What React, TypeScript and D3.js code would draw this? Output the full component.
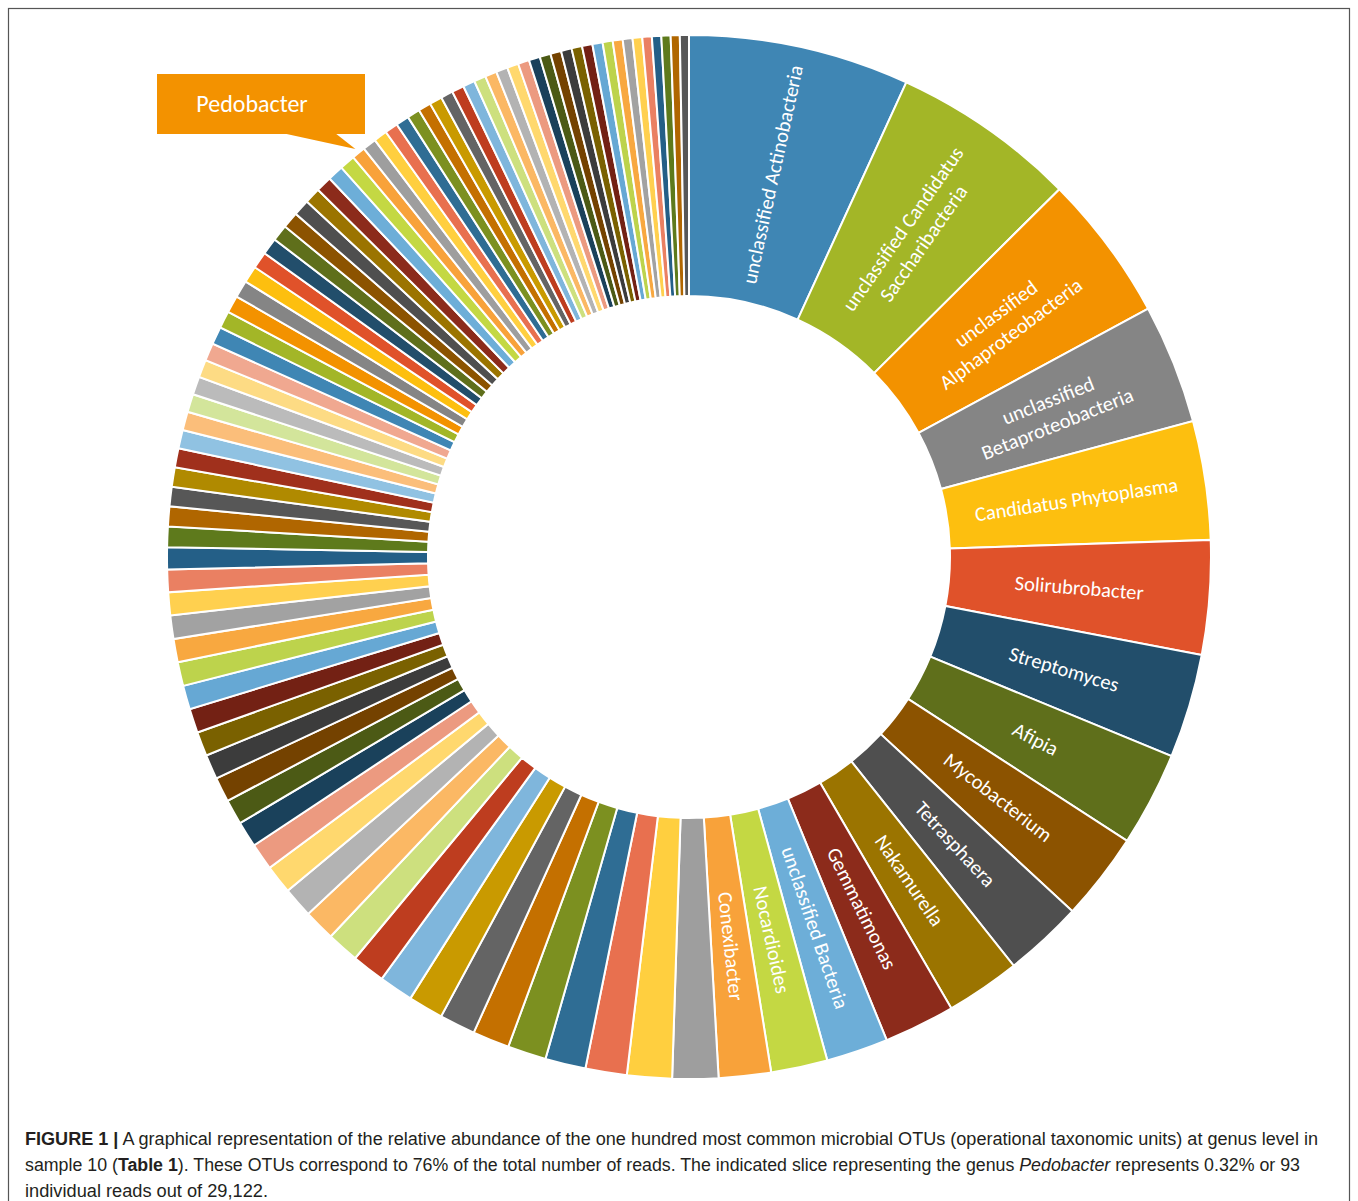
import React from "react";
import * as d3 from "d3";

// Read counts of the 100 most common OTUs in sample 10 (clockwise from 12 o'clock)
const reads: number[] = [
  1512, 1266, 1008, 818, 812, 781, 713, 646, 602, 541,
  510, 486, 424, 387, 357, 314, 307, 283, 277, 264,
  252, 246, 240, 234, 227, 221, 215, 209, 197, 184,
  178, 172, 169, 169, 166, 166, 163, 163, 160, 160,
  157, 154, 151, 140, 136, 133, 133, 130, 127, 127,
  124, 124, 121, 121, 121, 118, 118, 118, 115, 115,
  115, 112, 112, 112, 109, 109, 109, 106, 93, 93,
  92, 90, 90, 88, 87, 86, 84, 83, 82, 81,
  80, 79, 78, 77, 76, 75, 74, 73, 72, 71,
  70, 69, 68, 67, 66, 65, 64, 63, 62, 62,
];

// Labels drawn inside the largest slices (one entry per line)
const sliceLabels: string[][] = [
  ["unclassified Actinobacteria"],
  ["unclassified Candidatus", "Saccharibacteria"],
  ["unclassified", "Alphaproteobacteria"],
  ["unclassified", "Betaproteobacteria"],
  ["Candidatus Phytoplasma"],
  ["Solirubrobacter"],
  ["Streptomyces"],
  ["Afipia"],
  ["Mycobacterium"],
  ["Tetrasphaera"],
  ["Nakamurella"],
  ["Gemmatimonas"],
  ["unclassified Bacteria"],
  ["Nocardioides"],
  ["Conexibacter"],
];

const calloutLabel = "Pedobacter";
const calloutIndex = 68; // 69th slice

const palette: string[] = [
  "#3F86B4", "#A3B627", "#F39200", "#858585", "#FDBF0F", "#E0522A",
  "#224E6B", "#5F6F1B", "#8C5300", "#4F4F4F", "#9B7400", "#8C2B1B",
  "#6DAED8", "#C4D843", "#F8A23A", "#9E9E9E", "#FFCF3F", "#E8704F",
  "#2F6D94", "#7C9020", "#C47000", "#646464", "#C99A00", "#7FB6DC",
  "#BE3D1F", "#CDE07E", "#FBB864", "#B3B3B3", "#FFD86E", "#EC9A80",
  "#1A415B", "#4C5A15", "#744200", "#3C3C3C", "#7A6100", "#732114",
  "#66A8D4", "#BDD34C", "#F8A840", "#A2A2A2", "#FFD04F", "#EA8062",
  "#245F87", "#5E7A1C", "#B06600", "#575757", "#B08A00", "#A0301C",
  "#90C2E2", "#FBBE7A", "#D3E59B", "#BBBBBB", "#FDDB84", "#F0A890",
  "#3F86B4", "#A3B627", "#F39200", "#858585", "#FDBF0F", "#E0522A",
  "#224E6B", "#5F6F1B", "#8C5300", "#4F4F4F", "#9B7400", "#8C2B1B",
  "#6DAED8", "#C4D843", "#F8A23A", "#9E9E9E", "#FFCF3F", "#E8704F",
  "#2F6D94", "#7C9020", "#C47000", "#C99A00", "#646464", "#BE3D1F",
  "#7FB6DC", "#CDE07E", "#FBB864", "#B3B3B3", "#FFD86E", "#EC9A80",
  "#1A415B", "#4C5A15", "#744200", "#3C3C3C", "#7A6100", "#732114",
  "#66A8D4", "#BDD34C", "#F8A840", "#A2A2A2", "#FFD04F", "#EA8062",
  "#245F87", "#5E7A1C", "#B06600", "#575757",
];

const captionLine1 =
  "A graphical representation of the relative abundance of the one hundred most common microbial OTUs (operational taxonomic units) at genus level in";
const captionLine3 = "individual reads out of 29,122.";

export default function App() {
  const W = 1358;
  const H = 1201;
  const cx = 689;
  const cy = 557;
  const rIn = 261;
  const rOut = 522;

  const pie = d3.pie<number>().sort(null).value((d) => d);
  const arcs = pie(reads);
  const arc = d3
    .arc<d3.PieArcDatum<number>>()
    .innerRadius(rIn)
    .outerRadius(rOut);

  const labelFont = "Carlito, Calibri, Lato, 'Open Sans', sans-serif";
  const rLabel = (rIn + rOut) / 2;

  const ca = arcs[calloutIndex];
  const cMid = (ca.startAngle + ca.endAngle) / 2;
  const tipX = cx + (rOut + 5) * Math.sin(cMid);
  const tipY = cy - (rOut + 5) * Math.cos(cMid);

  return (
    <svg
      width={W}
      height={H}
      viewBox={`0 0 ${W} ${H}`}
      style={{ position: "absolute", left: 0, top: 0, background: "#fff" }}
    >
      <rect x={8.5} y={8.5} width={1341} height={1240} fill="none" stroke="#555" strokeWidth={1.2} />
      <g transform={`translate(${cx},${cy})`}>
        {arcs.map((a, i) => (
          <path key={i} d={arc(a) || ""} fill={palette[i % palette.length]} stroke="#fff" strokeWidth={2} />
        ))}
        {sliceLabels.map((lines, i) => {
          const a = arcs[i];
          const mid = (a.startAngle + a.endAngle) / 2;
          const x = rLabel * Math.sin(mid);
          const y = -rLabel * Math.cos(mid);
          const rot = (mid * 180) / Math.PI - 90;
          const lh = 25;
          return (
            <text
              key={i}
              transform={`translate(${x},${y}) rotate(${rot})`}
              textAnchor="middle"
              fill="#fff"
              fontFamily={labelFont}
              fontSize={20.5}
            >
              {lines.map((ln, j) => (
                <tspan key={j} x={0} y={(j - (lines.length - 1) / 2) * lh} dy="0.35em">
                  {ln}
                </tspan>
              ))}
            </text>
          );
        })}
      </g>
      <polygon points={`282,133 335,133 ${tipX},${tipY}`} fill="#F39200" />
      <rect x={157} y={74} width={208} height={60} fill="#F39200" />
      <text x={252} y={104} dy="0.35em" textAnchor="middle" fill="#fff" fontFamily={labelFont} fontSize={24}>
        {calloutLabel}
      </text>
      <g fontFamily="'Liberation Sans', Arial, sans-serif" fontSize={17.5} fill="#231F20">
        <text x={25} y={1145} textLength={1293} lengthAdjust="spacingAndGlyphs">
          <tspan fontWeight="bold">FIGURE 1 |</tspan> {captionLine1}
        </text>
        <text x={25} y={1171} textLength={1275} lengthAdjust="spacingAndGlyphs">
          {"sample 10 ("}
          <tspan fontWeight="bold">Table 1</tspan>
          {"). These OTUs correspond to 76% of the total number of reads. The indicated slice representing the genus "}
          <tspan fontStyle="italic">Pedobacter</tspan>
          {" represents 0.32% or 93"}
        </text>
        <text x={25} y={1197} textLength={243} lengthAdjust="spacingAndGlyphs">
          {captionLine3}
        </text>
      </g>
    </svg>
  );
}
